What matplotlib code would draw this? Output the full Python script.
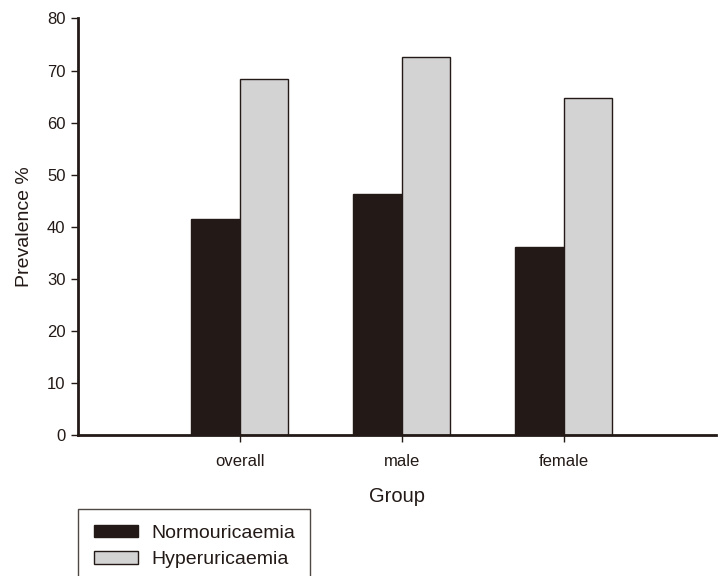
import matplotlib

matplotlib.use("Agg")
import matplotlib.pyplot as plt
import numpy as np

plt.rcParams["font.family"] = ["Liberation Sans", "DejaVu Sans"]

groups = ["overall", "male", "female"]
normo = [41.5, 46.4, 36.1]
hyper = [68.3, 72.6, 64.7]
series_names = ["Normouricaemia", "Hyperuricaemia"]

INK = "#231a17"
GREY = "#d3d3d3"

fig = plt.figure(figsize=(7.18, 5.76), dpi=100)
ax = fig.add_axes([0.1086, 0.244, 0.8884, 0.724])

x = np.arange(len(groups))
w = 0.30
b1 = ax.bar(x - w / 2, normo, width=w, color=INK, edgecolor=INK, linewidth=1,
            label=series_names[0])
b2 = ax.bar(x + w / 2, hyper, width=w, color=GREY, edgecolor=INK, linewidth=1,
            label=series_names[1])

ax.set_xlim(-1.0, 2.94)
ax.set_ylim(0, 80)
ax.set_yticks(np.arange(0, 81, 10))
ax.set_xticks(x)
ax.set_xticklabels(groups)

for side in ("top", "right"):
    ax.spines[side].set_visible(False)
for side in ("left", "bottom"):
    ax.spines[side].set_linewidth(2)
    ax.spines[side].set_color(INK)

ax.tick_params(axis="y", direction="out", length=5, width=1, color=INK,
               labelsize=12, labelcolor=INK, pad=4)
ax.tick_params(axis="x", direction="out", length=5, width=1, color=INK,
               labelsize=12, labelcolor=INK, pad=8)

ax.set_ylabel("Prevalence %", fontsize=14, color=INK, labelpad=10)
ax.set_xlabel("Group", fontsize=14.5, color=INK, labelpad=13)

# legend box runs off the bottom of the figure, as in the original
leg = fig.legend(handles=[b1, b2], loc="upper left",
                 bbox_to_anchor=(78 / 718, 1 - 509 / 576),
                 fontsize=14, frameon=True, fancybox=False,
                 handlelength=2.3, handleheight=0.6, handletextpad=0.65,
                 labelspacing=0.5, borderpad=0.8, borderaxespad=0)
leg.get_frame().set_edgecolor(INK)
leg.get_frame().set_linewidth(1)
for t in leg.get_texts():
    t.set_color(INK)

fig.savefig("out.png", dpi=100)
